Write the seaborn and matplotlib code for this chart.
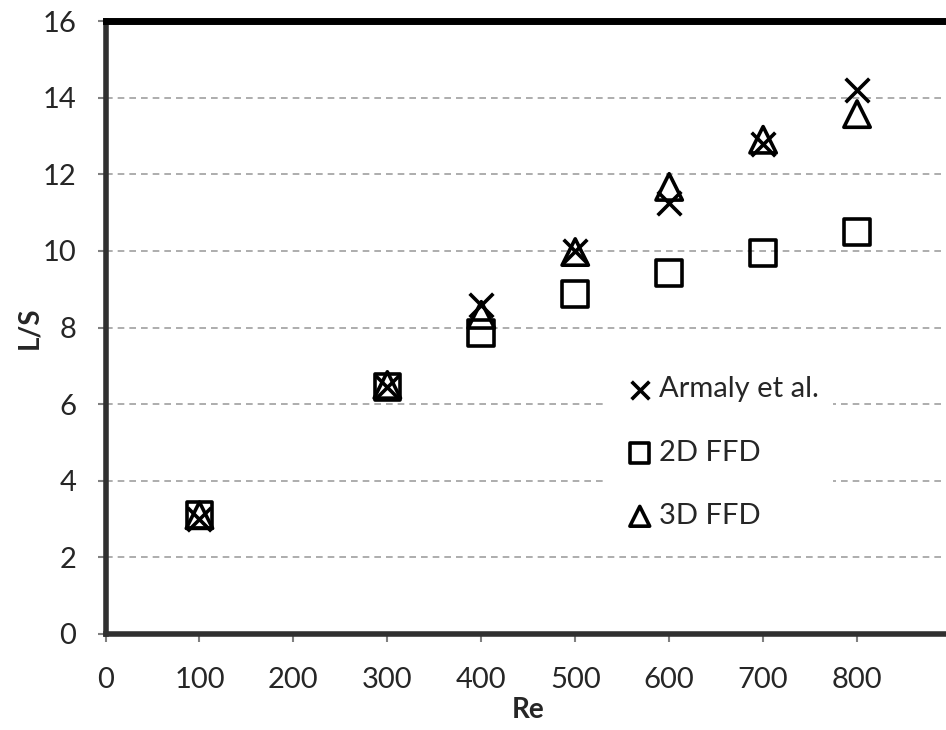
import numpy as np
import pandas as pd
import matplotlib
matplotlib.use('Agg')
import matplotlib.pyplot as plt
import seaborn as sns

# data
re_vals = [100, 300, 400, 500, 600, 700, 800]
armaly = [3.0, 6.45, 8.6, 10.0, 11.25, 12.8, 14.2]
ffd_2d = [3.1, 6.45, 7.85, 8.87, 9.42, 9.95, 10.5]
ffd_3d = [3.1, 6.5, 8.33, 9.97, 11.67, 12.9, 13.57]

sns.set_style('white')
plt.rcParams['font.family'] = ['Lato', 'DejaVu Sans']

fig = plt.figure(figsize=(9.46, 7.30), dpi=100)
ax = fig.add_axes([105.5 / 946, 1 - 634 / 730, (951 - 105.5) / 946, (634 - 21) / 730])

df = pd.DataFrame({'Re': re_vals, 'armaly': armaly, 'ffd2': ffd_2d, 'ffd3': ffd_3d})

sns.scatterplot(data=df, x='Re', y='armaly', ax=ax, marker='x', s=290,
                color='black', linewidth=2.6, label='Armaly et al.', zorder=3)
sns.scatterplot(data=df, x='Re', y='ffd2', ax=ax, marker='s', s=340,
                facecolors='none', edgecolor='black', linewidth=2.6,
                label='2D FFD', zorder=3)
sns.scatterplot(data=df, x='Re', y='ffd3', ax=ax, marker='^', s=360,
                facecolors='none', edgecolor='black', linewidth=2.6,
                label='3D FFD', zorder=3)

ax.set_xlim(0, 900)
ax.set_ylim(0, 16)
ax.set_xticks(np.arange(0, 900, 100))
ax.set_yticks(np.arange(0, 17, 2))
ax.yaxis.grid(True, linestyle=(0, (4, 3)), color='#a0a0a0', linewidth=1.2)
ax.xaxis.grid(False)

for side in ['left', 'bottom']:
    ax.spines[side].set_color('#303030')
    ax.spines[side].set_linewidth(4)
ax.spines['top'].set_color('black')
ax.spines['top'].set_linewidth(5)
ax.spines['right'].set_visible(False)

ax.tick_params(axis='both', direction='out', length=6, width=1.5, color='#808080',
               labelsize=21, bottom=True, left=True)
ax.tick_params(axis='x', pad=18)
ax.tick_params(axis='y', pad=15)
ax.set_xlabel('Re', fontsize=20, fontweight='bold', labelpad=3)
ax.set_ylabel('L/S', fontsize=20, fontweight='bold', labelpad=0)

leg = ax.legend(loc='upper left', bbox_to_anchor=(0.575, 0.468), frameon=True,
                facecolor='white', edgecolor='none', framealpha=1, fontsize=21,
                labelspacing=1.28, handletextpad=0.0, borderpad=0.5,
                handlelength=1.3, markerscale=0.75)
leg.set_zorder(2)

fig.savefig('out.png', dpi=100)
